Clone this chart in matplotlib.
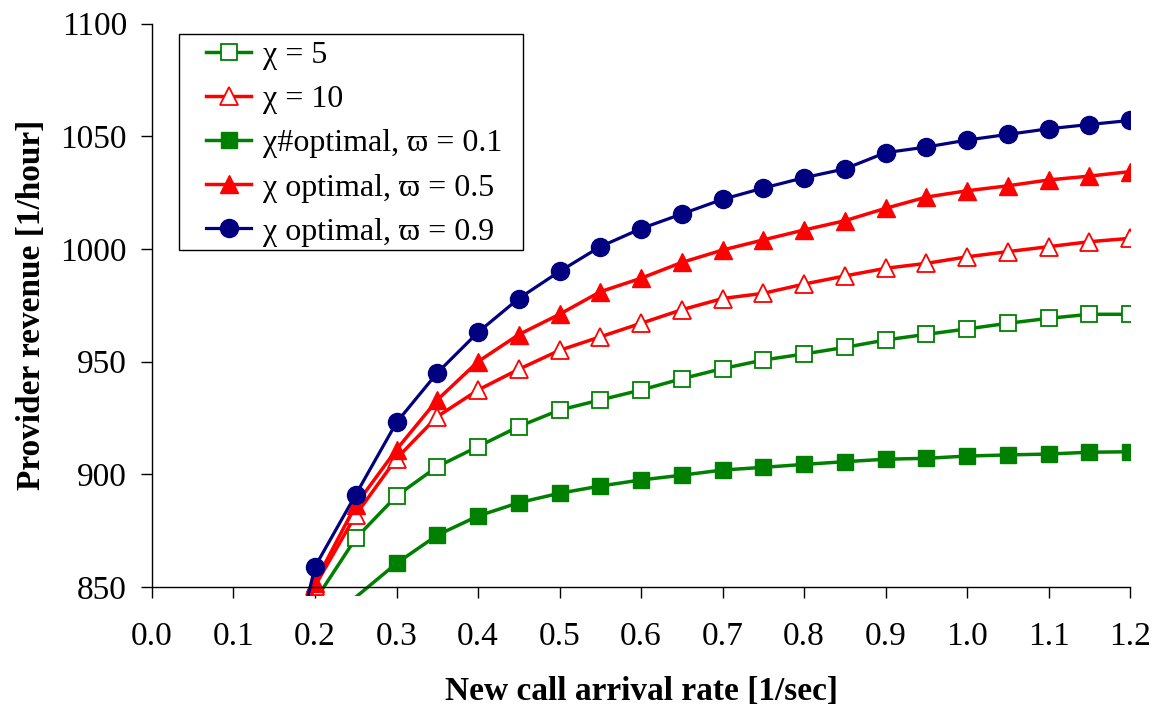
import numpy as np
import matplotlib
matplotlib.use("Agg")
import matplotlib.pyplot as plt
from matplotlib.patches import Rectangle

# ---- data ----
rate = [0.15, 0.20, 0.25, 0.30, 0.35, 0.40, 0.45, 0.50, 0.55, 0.60, 0.65,
        0.70, 0.75, 0.80, 0.85, 0.90, 0.95, 1.00, 1.05, 1.10, 1.15, 1.20]
nan = float("nan")
chi5 = [nan, 844, 871.6, 890.4, 903.4, 912.3, 921.2, 928.5, 933, 937.4, 942.4,
        946.9, 950.7, 953.4, 956.3, 959.6, 962.1, 964.5, 967, 969.2, 971, 971]
chi10 = [786, 850.5, 882, 907, 925.6, 937.4, 946.6, 955, 961, 967, 973,
         978, 980.3, 984.4, 988, 991.4, 993.6, 996.5, 998.8, 1001, 1003.2, 1004.7]
opt01 = [nan, nan, 845.5, 860.5, 873, 881.5, 887.4, 891.6, 894.8, 897.5, 899.6,
         901.9, 903.1, 904.4, 905.6, 906.7, 907.1, 908.1, 908.6, 909, 909.8, 910]
opt05 = [782, 852, 886.4, 911, 933, 950, 962, 971, 981, 987, 994,
         999.5, 1004, 1008.4, 1012.5, 1018, 1023, 1025.8, 1028, 1030.6, 1032.3, 1034.3]
opt09 = [783, 859, 891, 923, 945, 963, 978, 990, 1001, 1009, 1015.5,
         1022, 1027, 1031.6, 1035.5, 1042.7, 1045.2, 1048.3, 1050.8, 1053.3, 1055.2, 1057]
labels = ["χ = 5", "χ = 10", "χ#optimal, ϖ = 0.1",
          "χ optimal, ϖ = 0.5", "χ optimal, ϖ = 0.9"]
xticks = [0.0, 0.1, 0.2, 0.3, 0.4, 0.5, 0.6, 0.7, 0.8, 0.9, 1.0, 1.1, 1.2]
yticks = [850, 900, 950, 1000, 1050, 1100]
xlabel = "New call arrival rate [1/sec]"
ylabel = "Provider revenue [1/hour]"

GREEN = "#008000"
RED = "#FF0000"
NAVY = "#000080"
SERIF = ["Liberation Serif", "DejaVu Serif"]
plt.rcParams["font.family"] = SERIF

W, H = 1162, 713
fig = plt.figure(figsize=(W / 100, H / 100), dpi=100)
ax = fig.add_axes([0.1308, 0.1767, 0.8417, 0.7903])

ymin, ymax = 850, 1100
styles = [
    (chi5, dict(color=GREEN, marker="s", ms=12, mfc="white", mec=GREEN, mew=1.3, lw=2.5)),
    (chi10, dict(color=RED, marker="^", ms=13, mfc="white", mec=RED, mew=1.3, lw=2.5)),
    (opt01, dict(color=GREEN, marker="s", ms=12, mfc=GREEN, mec=GREEN, lw=2.5)),
    (opt05, dict(color=RED, marker="^", ms=13, mfc=RED, mec=RED, lw=2.5)),
    (opt09, dict(color=NAVY, marker="o", ms=13, mfc=NAVY, mec=NAVY, lw=2.3)),
]
clip = Rectangle((0, -0.016), 1, 1.1, transform=ax.transAxes,
                 facecolor="none", edgecolor="none")
handles = []
for (vals, st), lab in zip(styles, labels):
    arr = np.array(vals, dtype=float)
    mask = [bool(v >= ymin - 1) if not np.isnan(v) else False for v in arr]
    ln, = ax.plot(rate, arr, markevery=mask, label=lab, **st)
    ln.set_clip_path(clip)
    handles.append(ln)

ax.set_xlim(0, 1.2)
ax.set_ylim(ymin, ymax)
ax.set_xticks(xticks)
ax.set_xticklabels([f"{t:.1f}" for t in xticks])
ax.set_yticks(yticks)
ax.set_yticklabels([str(t) for t in yticks])
for s in ["top", "right"]:
    ax.spines[s].set_visible(False)
for s in ["left", "bottom"]:
    ax.spines[s].set_linewidth(1.0)
ax.tick_params(axis="both", direction="out", length=8, width=1.0, labelsize=24)
ax.tick_params(axis="x", pad=17)
ax.tick_params(axis="y", pad=10)

ax.set_xlabel(xlabel, fontsize=24, fontweight="bold", labelpad=17)
ax.set_ylabel(ylabel, fontsize=24, fontweight="bold", labelpad=10)

# legend frame drawn separately for exact box placement
frame = Rectangle((179 / W, 1 - 250 / H), (523 - 179) / W, (250 - 34) / H,
                  transform=fig.transFigure, facecolor="white", edgecolor="black",
                  linewidth=1.0, zorder=4, clip_on=False)
ax.add_patch(frame)

leg = ax.legend(handles=handles, loc="upper left",
                bbox_to_anchor=(206 / W, 1 - 41 / H), bbox_transform=fig.transFigure,
                borderaxespad=0, borderpad=0, frameon=False,
                handlelength=1.42, handletextpad=0.35, labelspacing=0.46,
                prop={"family": SERIF, "size": 23})
leg.set_zorder(5)

fig.savefig("out.png", dpi=100)
